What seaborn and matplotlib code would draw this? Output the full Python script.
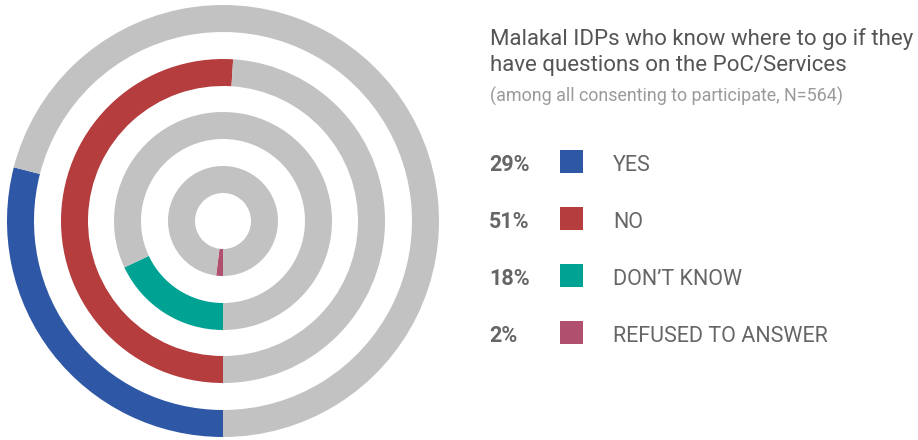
import matplotlib
matplotlib.use("Agg")
import matplotlib.pyplot as plt
import seaborn as sns
from matplotlib import font_manager
from matplotlib.patches import Rectangle

categories = ["YES", "NO", "DON\u2019T KNOW", "REFUSED TO ANSWER"]
values = [29, 51, 18, 2]
pct_labels = ["29%", "51%", "18%", "2%"]
colors = ["#2E58A6", "#B53D3D", "#00A393", "#B0506E"]
rest_color = "#C2C2C2"
title_lines = ["Malakal IDPs who know where to go if they", "have questions on the PoC/Services"]
subtitle = "(among all consenting to participate, N=564)"

sns.set_theme(style="white")
names = {f.name for f in font_manager.fontManager.ttflist}
narrow = "Liberation Sans Narrow" if "Liberation Sans Narrow" in names else "Roboto"
plt.rcParams["font.family"] = ["Roboto", "DejaVu Sans"]

W, H = 918, 440
fig = plt.figure(figsize=(W / 100, H / 100), dpi=100)
ax = fig.add_axes([0, 0, 1, 1])

cx, cy = 223, 221
radii = [216, 162, 109, 55]
width = 27

for v, col, r in zip(values, colors, radii):
    ax.pie([v, 100 - v], colors=[col, rest_color], radius=r, center=(cx, cy),
           startangle=90, counterclock=True, frame=True,
           wedgeprops=dict(width=width, linewidth=0))

ax.set_xlim(0, W)
ax.set_ylim(H, 0)
ax.set_aspect("equal")
ax.axis("off")

txt = "#666666"
ax.text(490, 45.5, title_lines[0], fontsize=16, color="#555555", va="baseline", ha="left")
ax.text(490, 71.5, title_lines[1], fontsize=16, color="#555555", va="baseline", ha="left")
ax.text(490, 102, subtitle, fontsize=12.9, color="#9A9A9A", va="baseline", ha="left")

row_base = [171, 228, 285, 342]
for i, (p, c, col) in enumerate(zip(pct_labels, categories, colors)):
    b = row_base[i]
    ax.text(489, b, p, fontsize=15.5, fontweight="bold", color=txt, va="baseline", ha="left",
            family=[narrow, "DejaVu Sans"])
    ax.add_patch(Rectangle((560, b - 21), 23, 23, color=col, lw=0))
    ax.text(613, b, c, fontsize=15.5, color=txt, va="baseline", ha="left")

fig.savefig("out.png", dpi=100)
